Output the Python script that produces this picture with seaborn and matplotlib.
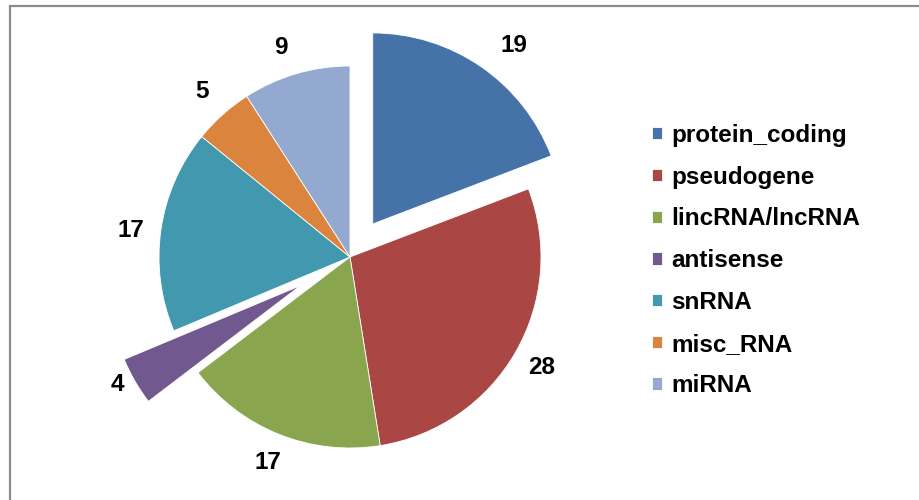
import matplotlib
matplotlib.use("Agg")
import matplotlib.pyplot as plt
import seaborn as sns
from matplotlib.lines import Line2D

categories = ["protein_coding", "pseudogene", "lincRNA/lncRNA", "antisense",
              "snRNA", "misc_RNA", "miRNA"]
values = [19, 28, 17, 4, 17, 5, 9]
explode = [0.21, 0, 0, 0.3, 0, 0, 0]
colors = ["#4572A7", "#AA4643", "#89A54E", "#71588F", "#4198AF", "#DB843D", "#93A9CF"]

sns.set_theme(style="white")
plt.rcParams["font.family"] = ["Liberation Sans", "DejaVu Sans"]
palette = sns.color_palette(colors)

W, H = 919, 500
fig = plt.figure(figsize=(W / 100, H / 100), dpi=100)
ax = fig.add_axes([0, 0, 1, 1])

R = 191.0
cx, cy = 350.0, 257.0

wedges, texts = ax.pie(
    values, explode=explode, colors=palette, labels=[str(v) for v in values],
    startangle=90, counterclock=False, radius=1.0, labeldistance=1.16,
    wedgeprops=dict(edgecolor="white", linewidth=0.6),
    textprops=dict(fontsize=17.5, fontweight="bold", color="black",
                   ha="center", va="center"),
)
ax.set_aspect("auto")
ax.set_xlim(-cx / R, (W - cx) / R)
ax.set_ylim(-(H - cy) / R, cy / R)
ax.axis("off")

# small label nudges (pixels) to match the reference placement
nudges = {0: (16, -4), 3: (9, 12), 4: (0, -5), 6: (-7, -3)}
for i, (dx, dy) in nudges.items():
    x, y = texts[i].get_position()
    texts[i].set_position((x + dx / R, y + dy / R))

leg = ax.legend(
    wedges, categories,
    loc="upper left", bbox_to_anchor=(652 / W, 1 - 124 / H),
    bbox_transform=fig.transFigure, frameon=False,
    prop=dict(family="Liberation Sans", weight="bold", size=17.5),
    labelcolor="black",
    handlelength=0.4, handleheight=0.4, handletextpad=0.4,
    labelspacing=0.77, borderpad=0, borderaxespad=0,
)

# outer chart-area border (top and left visible)
fig.add_artist(Line2D([9.5 / W, 9.5 / W], [0, 1 - 6 / H],
                      transform=fig.transFigure, color="#8C8C8C", lw=1.6))
fig.add_artist(Line2D([9.5 / W, 1], [1 - 6 / H, 1 - 6 / H],
                      transform=fig.transFigure, color="#8C8C8C", lw=1.6))

fig.savefig("out.png", dpi=100)
